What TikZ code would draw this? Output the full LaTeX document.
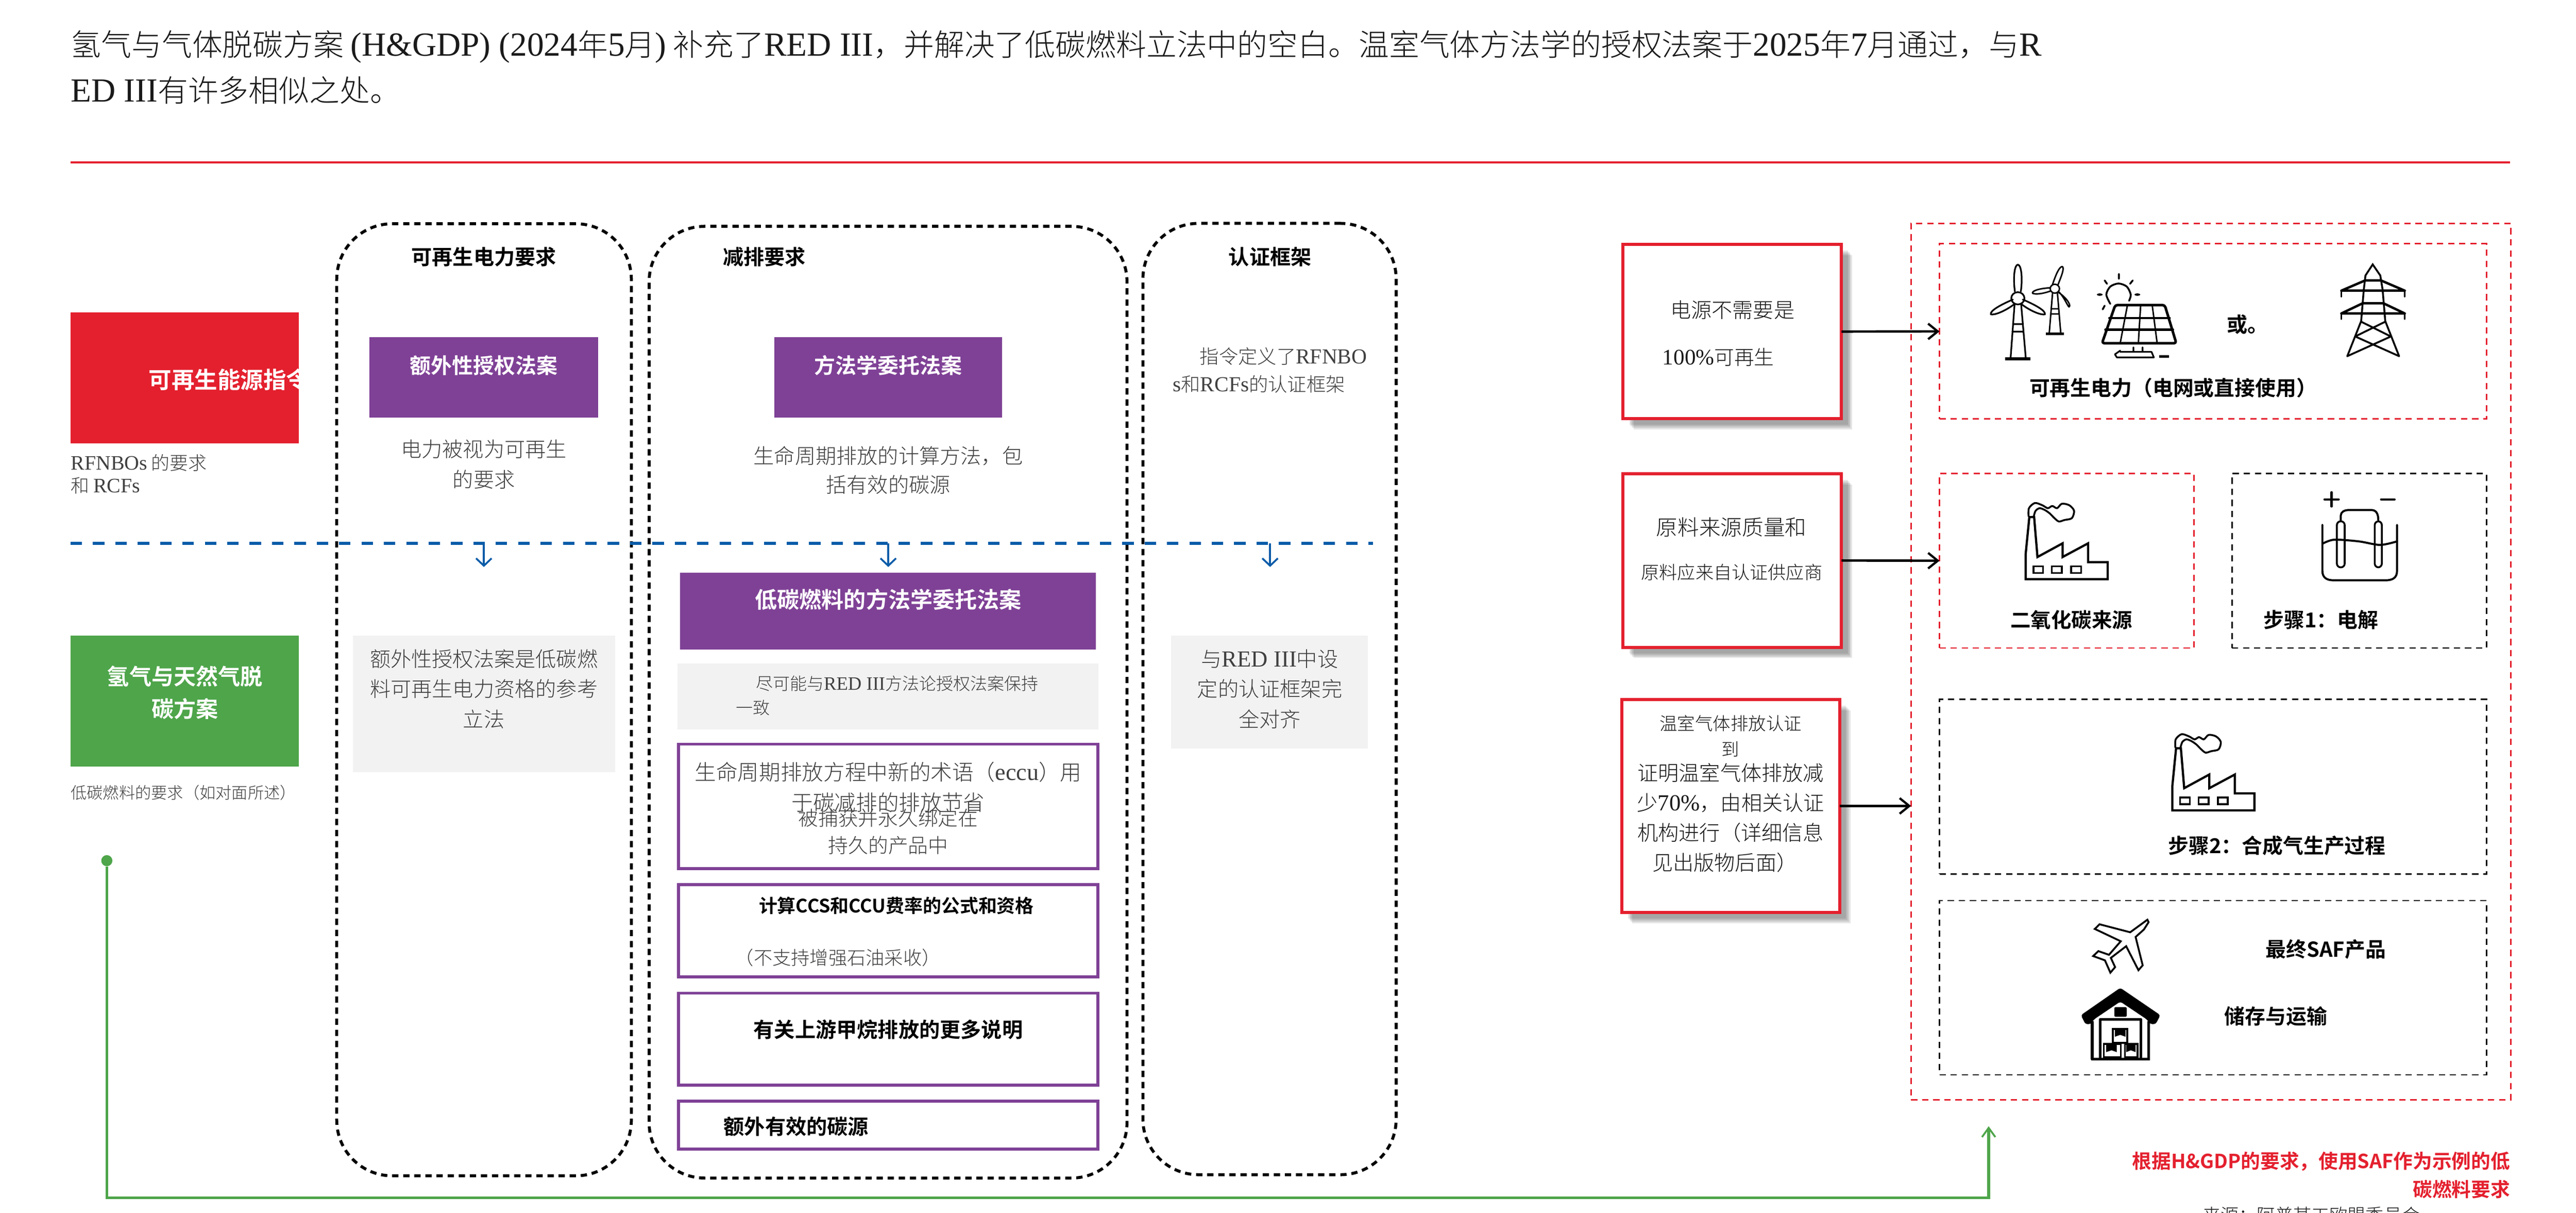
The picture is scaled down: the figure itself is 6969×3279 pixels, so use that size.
\documentclass[tikz,border=0pt]{standalone}
\usepackage{fontspec}
\usetikzlibrary{arrows.meta,shadows}
\IfFontExistsTF{Noto Sans CJK SC Light}{\setmainfont{Noto Sans CJK SC Light}[BoldFont={Noto Sans CJK SC Bold}]}{\setmainfont{Noto Sans CJK SC}}
\newfontfamily\lat{Liberation Serif}[Scale=1.11]
\newcommand\fs[1]{\fontsize{\fpeval{#1*0.28453}}{\fpeval{#1*0.32}}\selectfont}
\definecolor{redc}{HTML}{E4202E}
\definecolor{purp}{HTML}{7F4196}
\definecolor{greenc}{HTML}{4EA54A}
\definecolor{bluec}{HTML}{0A5CA8}
\definecolor{greyc}{HTML}{F2F2F2}
\definecolor{txt}{HTML}{1A1A1A}
\definecolor{txtg}{HTML}{404040}
\tikzset{
  x=0.01cm,y=-0.01cm,
  box/.style={rectangle,inner sep=0pt,outer sep=0pt},
  fillred/.style={box,fill=redc},
  fillpurp/.style={box,fill=purp},
  fillgreen/.style={box,fill=greenc},
  fillgrey/.style={box,fill=greyc},
  outpurp/.style={box,draw=purp,line width=0.08cm},
  column/.style={box,draw=black,line width=0.08cm,rounded corners=1.5cm,dash pattern=on 0.17cm off 0.13cm},
  reqbox/.style={box,draw=redc,fill=white,line width=0.085cm,
    drop shadow={shadow xshift=0.17cm,shadow yshift=-0.17cm,opacity=0.1,fill=black},
    drop shadow={shadow xshift=0.21cm,shadow yshift=-0.21cm,opacity=0.1,fill=black},
    drop shadow={shadow xshift=0.25cm,shadow yshift=-0.25cm,opacity=0.1,fill=black},
    drop shadow={shadow xshift=0.29cm,shadow yshift=-0.29cm,opacity=0.1,fill=black}},
  redframe/.style={box,draw=redc,line width=0.04cm,dash pattern=on 0.17cm off 0.13cm},
  blkframe/.style={box,draw=black,line width=0.04cm,dash pattern=on 0.17cm off 0.13cm},
  tb/.style={inner sep=0pt,align=center,text=txt},
  tg/.style={inner sep=0pt,align=center,text=txtg},
  th/.style={inner sep=0pt,align=center,text=black,font=\bfseries},
  tw/.style={inner sep=0pt,align=center,text=white,font=\bfseries},
  tr/.style={inner sep=0pt,align=center,text=redc,font=\bfseries},
  arr/.style={draw=black,line width=0.065cm,-{Straight Barb[length=0.26cm,width=0.42cm,line width=0.06cm]}},
  barr/.style={draw=bluec,line width=0.05cm,-{Straight Barb[length=0.2cm,width=0.42cm,line width=0.05cm]}},
  garr/.style={draw=greenc,line width=0.07cm,-{Straight Barb[length=0.25cm,width=0.36cm,line width=0.05cm]}},
  ic/.style={draw=black,line width=0.05cm,line join=round,line cap=round},
}
\newcommand\bx[6]{\node[#1,minimum width={(#5-#3)*0.01cm},minimum height={(#6-#4)*0.01cm}] (#2) at ({(#3+#5)/2},{(#4+#6)/2}) {};}
\newcommand\factory[2]{\begin{scope}[shift={(#1,#2)}]
  \draw[ic,line width=0.06cm,line join=miter] (0,0)--(0,-67)--(10,-168)--(23,-168)--(32,-60)--(100,-97)--(100,-60)--(169,-97)--(169,-46)--(222,-46)--(222,0)--cycle;
  \draw[ic,line width=0.05cm,line join=miter] (21,-35) rectangle (47,-17) (71,-35) rectangle (98,-17) (123,-35) rectangle (150,-17);
  \draw[ic] plot[smooth] coordinates {(8,-170)(9,-192)(25,-206)(45,-200)(60,-192)(72,-198)(85,-192)(98,-204)(118,-200)(131,-185)(125,-165)(105,-160)(90,-156)(78,-165)(65,-178)(52,-187)(38,-192)(27,-185)(22,-170)};
\end{scope}}
\begin{document}
\begin{tikzpicture}
\useasboundingbox (0,0) rectangle (6969,3279);
\clip (0,0) rectangle (6969,3279);
% header
\node[tb,anchor=west,font=\fs{82}] (intro1) at (191,126) {氢气与气体脱碳方案 {\lat (H\&GDP) (2024}年{\lat 5}月{\lat )} 补充了{\lat RED III}，并解决了低碳燃料立法中的空白。温室气体方法学的授权法案于{\lat 2025}年{\lat 7}月通过，与{\lat R}};
\node[tb,anchor=west,font=\fs{82}] (intro2) at (191,244) {{\lat ED III}有许多相似之处。};
\coordinate (ruleL) at (191,439); \coordinate (ruleR) at (6791,439);
\draw[redc,line width=0.05cm] (ruleL) -- (ruleR);
% left labels
\bx{fillred}{redb}{191}{844}{809}{1198}
\node[tw,anchor=west,font=\bfseries\fs{62}] (redt) at (402,1026) {可再生能源指令};
\node[tg,anchor=west,font=\fs{50}] (redc1) at (191,1252) {{\lat RFNBOs} 的要求};
\node[tg,anchor=west,font=\fs{50}] (redc2) at (191,1313) {和 {\lat RCFs}};
\bx{fillgreen}{greenb}{191}{1719}{808}{2073}
\node[tw,font=\bfseries\fs{60}] (gt1) at (500,1829) {氢气与天然气脱};
\node[tw,font=\bfseries\fs{60}] (gt2) at (500,1916) {碳方案};
\node[tg,anchor=west,font=\fs{43.5}] (gcap) at (191,2143) {低碳燃料的要求（如对面所述）};
% columns
\bx{column}{col1}{911}{605}{1708}{3179}
\bx{column}{col2}{1756}{612}{3049}{3185}
\bx{column}{col3}{3092}{604}{3777}{3176}
\node[th,font=\bfseries\fs{56}] (h1) at (1309,694) {可再生电力要求};
\node[th,font=\bfseries\fs{56}] (h2) at (2068,694) {减排要求};
\node[th,font=\bfseries\fs{56}] (h3) at (3436,694) {认证框架};
% purple heads
\bx{fillpurp}{p1}{1000}{912}{1618}{1129}
\bx{fillpurp}{p2}{2095}{912}{2711}{1129}
\node[tw,font=\bfseries\fs{57}] (p1t) at (1309,988) {额外性授权法案};
\node[tw,font=\bfseries\fs{57}] (p2t) at (2403,988) {方法学委托法案};
\node[tg,font=\fs{56}] (c1a) at (1309,1215) {电力被视为可再生};
\node[tg,font=\fs{56}] (c1b) at (1309,1297) {的要求};
\node[tg,font=\fs{56}] (c2a) at (2403,1232) {生命周期排放的计算方法，包};
\node[tg,font=\fs{56}] (c2b) at (2403,1311) {括有效的碳源};
\node[tg,anchor=west,font=\fs{52}] (c3a) at (3245,963) {指令定义了{\lat RFNBO}};
\node[tg,anchor=west,font=\fs{52}] (c3b) at (3172,1038) {{\lat s}和{\lat RCFs}的认证框架};
% blue divider
\coordinate (divL) at (191,1469); \coordinate (divR) at (3715,1469);
\draw[bluec,line width=0.08cm,dash pattern=on 0.31cm off 0.295cm] (divL) -- (divR);
\coordinate (a1s) at (1309,1469); \coordinate (a1e) at (1309,1533);
\coordinate (a2s) at (2403,1469); \coordinate (a2e) at (2403,1533);
\coordinate (a3s) at (3436,1469); \coordinate (a3e) at (3436,1533);
\draw[barr] (a1s) -- (a1e);
\draw[barr] (a2s) -- (a2e);
\draw[barr] (a3s) -- (a3e);
% lower col 1
\bx{fillgrey}{g1}{955}{1719}{1664}{2088}
\node[tg,font=\fs{56}] (g1a) at (1309,1781) {额外性授权法案是低碳燃};
\node[tg,font=\fs{56}] (g1b) at (1309,1862) {料可再生电力资格的参考};
\node[tg,font=\fs{56}] (g1c) at (1309,1944) {立法};
% lower col 2
\bx{fillpurp}{p3}{1840}{1548}{2965}{1756}
\node[tw,font=\bfseries\fs{60}] (p3t) at (2403,1621) {低碳燃料的方法学委托法案};
\bx{fillgrey}{g2}{1833}{1794}{2972}{1972}
\node[tg,anchor=west,font=\fs{46}] (g2a) at (2044,1848) {尽可能与{\lat RED III}方法论授权法案保持};
\node[tg,anchor=west,font=\fs{46}] (g2b) at (1990,1913) {一致};
\bx{outpurp}{oa}{1836}{2012}{2970}{2349}
\node[tg,font=\fs{58}] (oa1) at (2403,2087) {生命周期排放方程中新的术语（{\lat eccu}）用};
\node[tg,font=\fs{58}] (oa2) at (2403,2169) {于碳减排的排放节省};
\node[tg,font=\fs{54}] (oa3) at (2403,2211) {被捕获并永久绑定在};
\node[tg,font=\fs{54}] (oa4) at (2403,2286) {持久的产品中};
\bx{outpurp}{ob}{1836}{2392}{2970}{2641}
\node[th,font=\bfseries\fs{50}] (ob1) at (2425,2449) {计算CCS和CCU费率的公式和资格};
\node[tg,anchor=west,font=\fs{50.5}] (ob2) at (1988,2589) {（不支持增强石油采收）};
\bx{outpurp}{oc}{1836}{2685}{2970}{2934}
\node[th,font=\bfseries\fs{56}] (oc1) at (2403,2784) {有关上游甲烷排放的更多说明};
\bx{outpurp}{od}{1836}{2977}{2970}{3107}
\node[th,anchor=west,font=\bfseries\fs{56}] (od1) at (1957,3046) {额外有效的碳源};
% lower col 3
\bx{fillgrey}{g3}{3168}{1719}{3701}{2024}
\node[tg,font=\fs{56}] (g3a) at (3435,1781) {与{\lat RED III}中设};
\node[tg,font=\fs{56}] (g3b) at (3435,1862) {定的认证框架完};
\node[tg,font=\fs{56}] (g3c) at (3435,1944) {全对齐};
% right: frames
\bx{redframe}{outer}{5170}{604}{6792}{2974}
\bx{redframe}{fa}{5247}{659}{6727}{1133}
\bx{redframe}{fb}{5247}{1280}{5936}{1752}
\bx{blkframe}{fc}{6038}{1280}{6727}{1752}
\bx{blkframe}{fd}{5247}{1891}{6727}{2363}
\bx{blkframe}{fe}{5247}{2435}{6727}{2906}
% requirement boxes
\bx{reqbox}{r1}{4391}{661}{4982}{1132}
\bx{reqbox}{r2}{4391}{1281}{4982}{1750}
\bx{reqbox}{r3}{4387}{1891}{4977}{2467}
\node[tb,font=\fs{56}] (r1a) at (4687,838) {电源不需要是};
\node[tb,anchor=west,font=\fs{54}] (r1b) at (4497,965) {{\lat 100\%}可再生};
\node[tb,font=\fs{58}] (r2a) at (4684,1425) {原料来源质量和};
\node[tb,font=\fs{49}] (r2b) at (4685,1547) {原料应来自认证供应商};
\node[tb,font=\fs{48}] (r3a) at (4682,1956) {温室气体排放认证};
\node[tb,font=\fs{48}] (r3b) at (4682,2026) {到};
\node[tb,font=\fs{56}] (r3c) at (4682,2090) {证明温室气体排放减};
\node[tb,font=\fs{56}] (r3d) at (4682,2171) {少{\lat 70\%}，由相关认证};
\node[tb,font=\fs{56}] (r3e) at (4682,2251) {机构进行（详细信息};
\node[tb,font=\fs{56}] (r3f) at (4666,2332) {见出版物后面）};
\draw[arr] (r1.east) -- (fa.west);
\draw[arr] (r2.east) -- (fb.west);
\draw[arr] (r3.east) -- (r3.east -| outer.west);
% frame labels
\node[th,font=\bfseries\fs{55.5}] (la) at (5879,1049) {可再生电力（电网或直接使用）};
\node[th,font=\bfseries\fs{56}] (lor) at (6080,877) {或。};
\node[th,font=\bfseries\fs{55}] (lb) at (5604,1676) {二氧化碳来源};
\node[th,font=\bfseries\fs{55.5}] (lc) at (6279,1676) {步骤1：电解};
\node[th,font=\bfseries\fs{55.5}] (ld) at (6160,2287) {步骤2：合成气生产过程};
\node[th,font=\bfseries\fs{55.5}] (le) at (6292,2566) {最终SAF产品};
\node[th,font=\bfseries\fs{55.5}] (lf) at (6157,2748) {储存与运输};
% notes
\node[tr,anchor=east,font=\bfseries\fs{52.5}] (n1) at (6791,3140) {根据H\&GDP的要求，使用SAF作为示例的低};
\node[tr,anchor=east,font=\bfseries\fs{52.5}] (n2) at (6791,3216) {碳燃料要求};
\node[tb,font=\fs{49}] (src) at (6253,3286) {来源：阿普某工欧盟委员会};
% green connector
\node[circle,fill=greenc,inner sep=0pt,minimum size=0.3cm] (gdot) at (289,2327) {};
\coordinate (gturn) at (289,3238); \coordinate (gend) at (5380,3045);
\draw[garr] (gdot) -- (gturn) -| (gend);
% wind + solar + pylon
\begin{scope}[shift={(5200,650)},xscale=.893,yscale=.333]
  \draw[ic,line width=0.045cm] (268,955)--(280,520) (314,955)--(300,520) (275,680)--(305,680) (273,740)--(307,740);
  \draw[ic,line width=0.08cm,line cap=butt] (252,960)--(328,960);
  \draw[ic,line width=0.045cm] (290,470) ellipse [x radius=20,y radius=50];
  \draw[ic,line width=0.045cm] (281,415) .. controls (275,300) and (280,197) .. (290,197) .. controls (300,197) and (305,300) .. (299,415);
  \draw[ic,line width=0.045cm] (275,480) .. controls (240,520) and (205,570) .. (208,600) .. controls (225,610) and (265,550) .. (280,515);
  \draw[ic,line width=0.045cm] (305,480) .. controls (340,520) and (375,570) .. (372,600) .. controls (355,610) and (315,550) .. (300,515);
  \draw[ic,line width=0.04cm] (385,755)--(395,430) (420,755)--(410,430) (392,555)--(412,555) (390,597)--(415,597);
  \draw[ic,line width=0.06cm,line cap=butt] (375,758)--(430,758);
  \draw[ic,line width=0.04cm] (402,392) ellipse [x radius=14,y radius=36];
  \draw[ic,line width=0.04cm] (395,358) .. controls (405,280) and (415,212) .. (425,212) .. controls (432,230) and (420,300) .. (412,358);
  \draw[ic,line width=0.04cm] (388,385) .. controls (350,390) and (330,415) .. (335,430) .. controls (350,445) and (380,420) .. (390,410);
  \draw[ic,line width=0.04cm] (415,420) .. controls (430,460) and (440,530) .. (445,540) .. controls (452,530) and (440,470) .. (412,420);
  \draw[ic,line width=0.07cm,rounded corners=0.06cm] (585,525)--(735,525)--(770,835)--(545,835)--cycle;
  \draw[ic,line width=0.06cm] (567,630)--(750,630) (555,725)--(760,725);
  \draw[ic,line width=0.04cm] (622,525)--(600,835) (662,525)--(655,835) (697,525)--(712,835);
  \draw[ic,line width=0.05cm] plot[smooth] coordinates {(570,515)(558,440)(570,375)(595,350)(620,375)(632,440)(627,490)};
  \draw[ic,line width=0.05cm] (596,272)--(596,312) (553,325)--(560,352) (638,325)--(630,352) (553,530)--(547,560);
  \fill (538,440) circle [x radius=9,y radius=10] (652,440) circle [x radius=9,y radius=10];
  \draw[ic,line width=0.045cm] (640,868)--(640,905) (668,868)--(668,905) (600,905)--(695,905) (695,905)--(702,950)--(590,950)--(584,925)--(600,895);
  \draw[ic,line width=0.07cm,line cap=butt] (718,942)--(748,942);
  \draw[ic,line width=0.05cm,line join=miter] (1288,940)--(1330,655)--(1338,400)--(1343,285)--(1365,195)--(1388,285)--(1395,400)--(1403,655)--(1445,940);
  \draw[ic,line width=0.05cm] (1288,940)--(1420,780)--(1330,660) (1445,940)--(1312,780)--(1403,660);
  \draw[ic,line width=0.065cm] (1270,408)--(1462,408) (1342,325)--(1390,325) (1270,408)--(1342,325) (1462,408)--(1390,325)
     (1270,593)--(1462,593) (1335,510)--(1397,510) (1270,593)--(1335,510) (1462,593)--(1397,510);
  \draw[ic,line width=0.04cm] (1270,408)--(1270,458) (1462,408)--(1462,458) (1270,593)--(1270,640) (1462,593)--(1462,640);
\end{scope}
\factory{5480}{1566}
\factory{5877}{2191}
% electrolysis
\begin{scope}[shift={(5300,1250)},xscale=.957,yscale=.638]
  \draw[ic,line width=0.055cm] (1027,265)--(1027,460) .. controls (1027,490) and (1040,500) .. (1060,500) -- (1205,500) .. controls (1225,500) and (1238,490) .. (1238,460) -- (1238,265);
  \draw[ic,line width=0.055cm] plot[smooth] coordinates {(1027,345)(1060,328)(1130,335)(1190,350)(1238,335)};
  \draw[ic,rounded corners=0.1cm] (1068,250) rectangle (1090,445);
  \draw[ic,rounded corners=0.1cm] (1175,250) rectangle (1195,445);
  \draw[ic,line width=0.055cm] (1079,250)--(1079,225) .. controls (1079,210) and (1090,202) .. (1100,202) -- (1165,202) .. controls (1178,202) and (1185,215) .. (1185,245);
  \draw[ic,line width=0.06cm] (1033,157)--(1073,157) (1053,127)--(1053,187) (1193,157)--(1231,157);
\end{scope}
% plane
\begin{scope}[shift={(5500,2450)},xscale=.638,yscale=.333]
  \draw[ic,line width=0.05cm,line join=miter] (485,110)--(490,130)--(470,190)--(435,250)--(465,480)--(447,520)--(395,325)--(330,420)--(348,495)--(328,540)--(305,440)--(255,405)--(277,365)--(322,395)--(372,285)--(262,185)--(282,147)--(412,212)--cycle;
  % warehouse
  \fill[rounded corners=0.06cm] (370,663)--(203,885)--(222,958)--(245,958)--(258,920)--(370,775)--(483,920)--(497,958)--(520,958)--(540,885)--cycle;
  \draw[ic,line width=0.07cm,line cap=butt] (251,935)--(251,1243)--(490,1243)--(490,935);
  \draw[ic,line width=0.07cm,line cap=butt] (284,1230)--(284,920)--(458,920)--(458,1230);
  \fill[rounded corners=0.03cm] (345,820) rectangle (397,898);
  \draw[ic,line width=0.05cm,line join=miter] (338,998) rectangle (400,1110) (300,1118) rectangle (372,1228) (390,1118) rectangle (443,1228);
  \fill (347,1005)--(392,1005)--(392,1060)--(370,1045)--(347,1060)--cycle;
  \fill (310,1125)--(355,1125)--(355,1185)--(333,1170)--(310,1185)--cycle;
  \fill (395,1125)--(435,1125)--(435,1185)--(415,1170)--(395,1185)--cycle;
  \draw[ic,line width=0.07cm,line cap=butt] (247,1243)--(495,1243);
\end{scope}
\end{tikzpicture}
\end{document}
